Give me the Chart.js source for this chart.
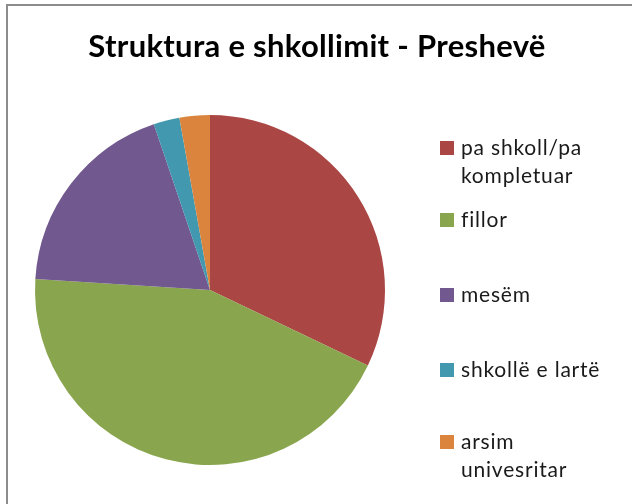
<!DOCTYPE html>
<html>
<head>
<meta charset="utf-8">
<script src="https://cdn.jsdelivr.net/npm/chart.js@4/dist/chart.umd.min.js"></script>
<style>
  html, body { margin: 0; padding: 0; background: #fff; }
  #wrap { position: relative; width: 632px; height: 504px; }
</style>
</head>
<body>
<div id="wrap"><canvas id="myChart" width="632" height="504"></canvas></div>
<script>
const chartTitle = 'Struktura e shkollimit - Preshevë';
const labels = ['pa shkoll/pa\nkompletuar', 'fillor', 'mesëm', 'shkollë e lartë', 'arsim\nunivesritar'];
const values = [32.1, 43.9, 18.8, 2.4, 2.8];
const colors = ['#AA4643', '#89A54E', '#71588F', '#4198AF', '#DB843D'];

// legend rows (center y of first text line), from the picture
const legendRowY = [148, 220, 295, 370, 442];

const FONT = 'Lato, "Open Sans", sans-serif';

// draws frame, title and legend by hand (Excel style)
const excelDecor = {
  id: 'excelDecor',
  beforeDraw(chart) {
    const ctx = chart.ctx;
    ctx.save();
    ctx.strokeStyle = '#8c8c8c';
    ctx.lineWidth = 2;
    ctx.strokeRect(7, 5, 700, 600);
    ctx.restore();
  },
  afterDraw(chart) {
    const ctx = chart.ctx;
    ctx.save();
    ctx.fillStyle = '#000';
    ctx.font = 'bold 31px ' + FONT;
    ctx.letterSpacing = '0.3px';
    ctx.textAlign = 'center';
    ctx.textBaseline = 'middle';
    ctx.fillText(chartTitle, 317, 47);

    ctx.font = '21px ' + FONT;
    ctx.letterSpacing = '0.8px';
    ctx.textAlign = 'left';
    chart.data.labels.forEach(function (lbl, i) {
      const y = legendRowY[i];
      ctx.fillStyle = chart.data.datasets[0].backgroundColor[i];
      ctx.fillRect(440, y - 7, 14, 14);
      ctx.fillStyle = '#1a1a1a';
      lbl.split('\n').forEach(function (line, j) {
        ctx.fillText(line, 461, y + j * 28.5);
      });
    });
    ctx.restore();
  }
};

const data = {
  labels: labels,
  datasets: [{
    data: values,
    backgroundColor: colors,
    borderWidth: 0
  }]
};

const config = {
  type: 'pie',
  data: data,
  options: {
    responsive: false,
    animation: false,
    layout: {
      padding: { left: 35, right: 247, top: 115, bottom: 39 }
    },
    plugins: {
      legend: { display: false },
      title: { display: false },
      tooltip: { enabled: false }
    }
  },
  plugins: [excelDecor]
};

var myChart = new Chart(document.getElementById('myChart'), config);
</script>
</body>
</html>
